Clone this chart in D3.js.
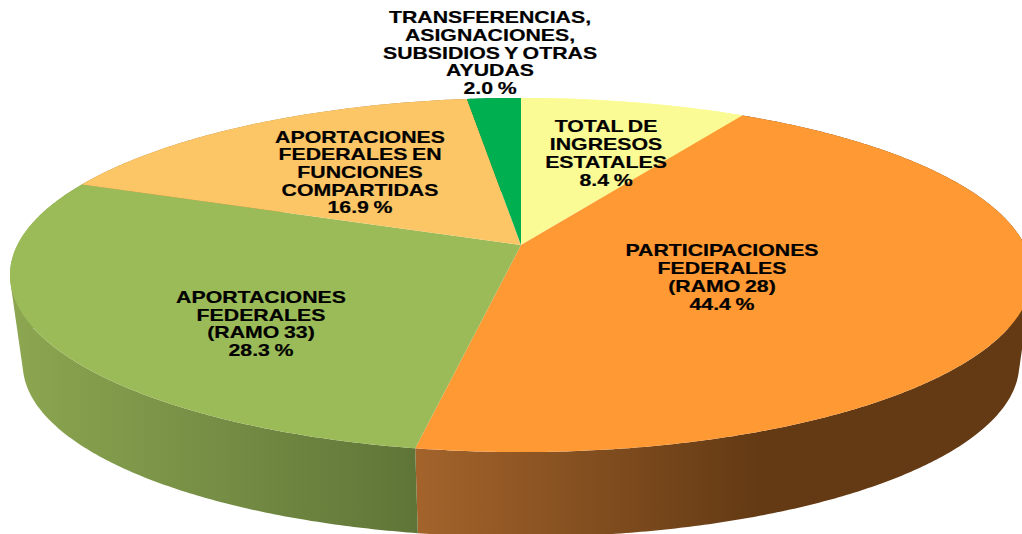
<!DOCTYPE html>
<html><head><meta charset="utf-8">
<script src="https://cdn.jsdelivr.net/npm/d3@7"></script>
<style>html,body{margin:0;padding:0;background:#fff;overflow:hidden}svg{display:block}
text{font-family:"Liberation Sans",Arial,sans-serif;font-weight:bold;fill:#000;text-anchor:middle;font-size:16.5px;word-spacing:-1px;stroke:#000;stroke-width:.2px}</style>
</head><body><div id="c"></div>
<script>
const categories = [
  ["TOTAL DE","INGRESOS","ESTATALES"],
  ["PARTICIPACIONES","FEDERALES","(RAMO 28)"],
  ["APORTACIONES","FEDERALES","(RAMO 33)"],
  ["APORTACIONES","FEDERALES EN","FUNCIONES","COMPARTIDAS"],
  ["TRANSFERENCIAS,","ASIGNACIONES,","SUBSIDIOS Y OTRAS","AYUDAS"]
];
const values = [8.4, 44.4, 28.3, 16.9, 2.0];
const topColors = ["#fbfb96","#ff9933","#9bbb59","#fcc666","#00b050"];
const sideStops = [["#fbfb96","#fbfb96"],["#a3632b","#633a14"],["#8ba550","#5f7538"],["#a58040","#a58040"],["#007a38","#007a38"]];
const labelCenters = [[606,153],[722,277],[261,323.5],[360,172],[490,52.5]];

const W=1022,H=534, vx=521, vy=245;
const k=0.1695, A=172, B=503.6;      // perspective of the pie's top face
const botScale=0.975, botY=335;      // bottom rim of the pie
const stepSize=Math.PI/360;

function project(t){const x=Math.sin(t),y=Math.cos(t),w=1+k*y;return [B*x/w,-A*y/w];}
const topPt=t=>{const p=project(t);return [vx+p[0],vy+p[1]];};
const botPt=t=>{const p=project(t);return [vx+botScale*p[0],botY+botScale*p[1]];};

const pie=d3.pie().sort(null).value(d=>d)(values);
const line=d3.line();
const svg=d3.select("#c").append("svg").attr("width",W).attr("height",H);
const defs=svg.append("defs");
const arcT=d=>d3.range(d.startAngle,d.endAngle,stepSize).concat([d.endAngle]);

const sideRange=[[500,700],[419,760],[20,417],[0,100],[400,500]];
pie.forEach((d,i)=>{
  const g=defs.append("linearGradient").attr("id","s"+i).attr("gradientUnits","userSpaceOnUse")
    .attr("x1",sideRange[i][0]).attr("x2",sideRange[i][1]).attr("y1",0).attr("y2",0);
  g.append("stop").attr("offset",0).attr("stop-color",sideStops[i][0]);
  g.append("stop").attr("offset",1).attr("stop-color",sideStops[i][1]);
});

// each side wall is a run of small quads, all wound the same way so they merge
function wall(d){
  const ts=arcT(d), parts=[];
  for(let j=0;j<ts.length-1;j++){
    const q=[topPt(ts[j]),topPt(ts[j+1]),botPt(ts[j+1]),botPt(ts[j])];
    if(d3.polygonArea(q)<0) q.reverse();
    parts.push(line(q)+"Z");
  }
  return parts.join("");
}
svg.append("g").selectAll("path").data(pie).join("path")
  .attr("d",wall).attr("fill",(d,i)=>`url(#s${i})`);
svg.append("g").selectAll("path").data(pie).join("path")
  .attr("d",d=>line([[vx,vy]].concat(arcT(d).map(topPt)))+"Z")
  .attr("fill",(d,i)=>topColors[i]);

const lh=17.7, sx=1.29;
const lab=svg.append("g").selectAll("text").data(pie).join("text")
  .attr("transform",(d,i)=>`translate(${labelCenters[i][0]},${labelCenters[i][1]}) scale(${sx},1)`);
lab.each(function(d,i){
  const lines=categories[i].concat([d3.format(".1f")(values[i])+" %"]);
  const y0=-(lines.length-1)*lh/2+6;
  d3.select(this).selectAll("tspan").data(lines).join("tspan")
    .attr("x",0).attr("y",(l,j)=>y0+j*lh).text(l=>l);
});
</script></body></html>
